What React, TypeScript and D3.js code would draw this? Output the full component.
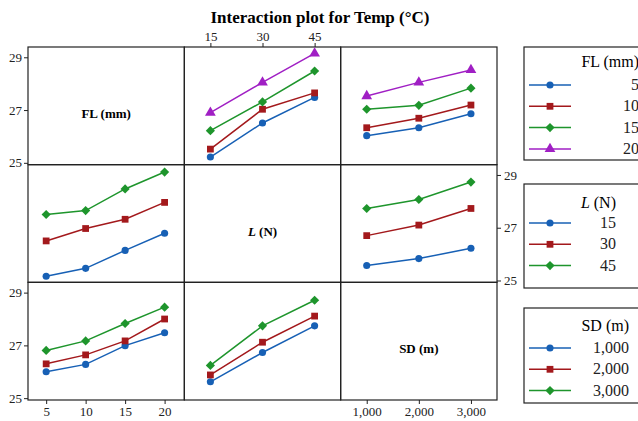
import React, { useEffect, useRef } from 'react';
import * as d3 from 'd3';

// factor levels
const flLevels = [5, 10, 15, 20];
const lLevels = [15, 30, 45];
const sdLevels = [1000, 2000, 3000];
const yTicks = [25, 27, 29];

// mean Temp (°C), one row per trace level
const flTracesVsL = [
  [25.22, 26.51, 27.48],
  [25.52, 27.03, 27.65],
  [26.22, 27.31, 28.48],
  [26.9, 28.05, 29.15],
];
const flTracesVsSD = [
  [26.03, 26.33, 26.86],
  [26.33, 26.69, 27.19],
  [27.03, 27.18, 27.83],
  [27.53, 28.05, 28.52],
];
const lTracesVsFL = [
  [25.16, 25.46, 26.14, 26.79],
  [26.5, 26.97, 27.32, 27.96],
  [27.5, 27.65, 28.47, 29.11],
];
const lTracesVsSD = [
  [25.57, 25.83, 26.22],
  [26.7, 27.1, 27.73],
  [27.73, 28.07, 28.73],
];
const sdTracesVsFL = [
  [26.0, 26.28, 26.99, 27.48],
  [26.3, 26.64, 27.17, 28.0],
  [26.81, 27.17, 27.83, 28.45],
];
const sdTracesVsL = [
  [25.62, 26.73, 27.74],
  [25.88, 27.12, 28.11],
  [26.24, 27.74, 28.71],
];

const colors = ['#1760b5', '#a3191c', '#1e952c', '#a01fc4'];
const shapes = ['circle', 'square', 'diamond', 'triangle'];
const serif = 'Liberation Serif, Times New Roman, serif';

const W = 638, H = 421;

const App = () => {
  const ref = useRef<SVGSVGElement>(null);

  useEffect(() => {
    const svg = d3.select(ref.current);
    svg.selectAll('*').remove();

    const left = 28, top = 47, right = 497, bottom = 400;
    const cw = (right - left) / 3, ch = (bottom - top) / 3;

    const xLevels = [flLevels, lLevels, sdLevels];
    const xDomains = [[2.7, 22.5], [7.5, 52.5], [500, 3500]];
    const xs = xDomains.map((d, i) =>
      d3.scaleLinear().domain(d).range([left + i * cw, left + (i + 1) * cw]));
    const ys = [0, 1, 2].map(r =>
      d3.scaleLinear().domain([24.93, 29.39]).range([top + (r + 1) * ch, top + r * ch]));

    // title
    svg.append('text')
      .attr('x', 320).attr('y', 23)
      .attr('text-anchor', 'middle')
      .attr('font-family', serif).attr('font-weight', 'bold').attr('font-size', 17)
      .text('Interaction plot for Temp (°C)');

    // grid cells
    const g = svg.append('g');
    for (let r = 0; r < 3; r++) {
      for (let c = 0; c < 3; c++) {
        g.append('rect')
          .attr('x', left + c * cw).attr('y', top + r * ch)
          .attr('width', cw).attr('height', ch)
          .attr('fill', 'none').attr('stroke', '#222').attr('stroke-width', 1.2);
      }
    }

    // diagonal labels
    const diag = g.append('g')
      .attr('font-family', serif).attr('font-weight', 'bold').attr('font-size', 13)
      .attr('text-anchor', 'middle');
    diag.append('text').attr('x', left + cw / 2).attr('y', top + ch / 2 + 12).text('FL (mm)');
    const lt = diag.append('text').attr('x', left + 1.5 * cw).attr('y', top + 1.5 * ch + 12);
    lt.append('tspan').attr('font-style', 'italic').text('L');
    lt.append('tspan').text(' (N)');
    diag.append('text').attr('x', left + 2.5 * cw).attr('y', top + 2.5 * ch + 12).text('SD (m)');

    // axes
    const styleAxis = (sel: any) => {
      sel.attr('font-family', serif).attr('font-size', 13);
      sel.select('.domain').remove();
      sel.selectAll('line').attr('stroke', '#222');
      sel.selectAll('text').attr('fill', '#222');
    };
    const yFmt = d3.format('d');
    svg.append('g').attr('transform', `translate(${left},0)`)
      .call(d3.axisLeft(ys[0]).tickValues(yTicks).tickFormat(yFmt).tickSize(4).tickPadding(2))
      .call(styleAxis);
    svg.append('g').attr('transform', `translate(${right},0)`)
      .call(d3.axisRight(ys[1]).tickValues(yTicks).tickFormat(yFmt).tickSize(4).tickPadding(3))
      .call(styleAxis);
    svg.append('g').attr('transform', `translate(${left},0)`)
      .call(d3.axisLeft(ys[2]).tickValues(yTicks).tickFormat(yFmt).tickSize(4).tickPadding(2))
      .call(styleAxis);
    svg.append('g').attr('transform', `translate(0,${top})`)
      .call(d3.axisTop(xs[1]).tickValues(lLevels).tickFormat(yFmt).tickSize(4).tickPadding(2))
      .call(styleAxis);
    svg.append('g').attr('transform', `translate(0,${bottom})`)
      .call(d3.axisBottom(xs[0]).tickValues(flLevels).tickFormat(yFmt).tickSize(4).tickPadding(3))
      .call(styleAxis);
    svg.append('g').attr('transform', `translate(0,${bottom})`)
      .call(d3.axisBottom(xs[2]).tickValues(sdLevels).tickSize(4).tickPadding(3)
        .tickFormat(d3.format(',')))
      .call(styleAxis);

    const markerPath = (shape: string) => {
      if (shape === 'circle') return d3.symbol().type(d3.symbolCircle).size(40)();
      if (shape === 'square') return d3.symbol().type(d3.symbolSquare).size(46)();
      if (shape === 'diamond') return d3.symbol().type(d3.symbolSquare).size(42)();
      return d3.symbol().type(d3.symbolTriangle).size(50)();
    };
    const drawMarker = (sel: any, shape: string, x: number, y: number, color: string) => {
      sel.append('path')
        .attr('d', markerPath(shape))
        .attr('transform', `translate(${x},${y})${shape === 'diamond' ? ' rotate(45)' : ''}`)
        .attr('fill', color);
    };

    // panels: row = trace factor, col = x factor
    const panels = [
      { row: 0, col: 1, traces: flTracesVsL },
      { row: 0, col: 2, traces: flTracesVsSD },
      { row: 1, col: 0, traces: lTracesVsFL },
      { row: 1, col: 2, traces: lTracesVsSD },
      { row: 2, col: 0, traces: sdTracesVsFL },
      { row: 2, col: 1, traces: sdTracesVsL },
    ];
    panels.forEach(p => {
      const x = xs[p.col], y = ys[p.row], lv = xLevels[p.col];
      const pg = svg.append('g');
      p.traces.forEach((vals, i) => {
        const pts = vals.map((v, j) => [x(lv[j]), y(v)] as [number, number]);
        pg.append('path')
          .attr('d', d3.line()(pts))
          .attr('fill', 'none').attr('stroke', colors[i]).attr('stroke-width', 1.5);
        pts.forEach(([px, py]) => drawMarker(pg, shapes[i], px, py, colors[i]));
      });
    });

    // legends
    const legends = [
      { title: 'FL (mm)', labels: flLevels.map(String), top: 47, h: 113, titleY: 67, itemY: 90, end: 639 },
      { title: 'L (N)', labels: lLevels.map(String), top: 184, h: 104, titleY: 208, itemY: 228, end: 616 },
      { title: 'SD (m)', labels: sdLevels.map(d3.format(',')), top: 308, h: 95, titleY: 331, itemY: 353, end: 629 },
    ];
    legends.forEach(lg => {
      const lgG = svg.append('g').attr('font-family', serif).attr('font-size', 16);
      lgG.append('rect').attr('x', 524).attr('y', lg.top).attr('width', 140).attr('height', lg.h)
        .attr('fill', 'white').attr('stroke', '#222').attr('stroke-width', 1.2);
      const tt = lgG.append('text').attr('x', lg.end).attr('y', lg.titleY).attr('text-anchor', 'end');
      if (lg.title === 'L (N)') {
        tt.append('tspan').attr('font-style', 'italic').text('L');
        tt.append('tspan').text(' (N)');
      } else {
        tt.text(lg.title);
      }
      lg.labels.forEach((lab, i) => {
        const cy = lg.itemY - 5 + i * 21.3;
        lgG.append('line').attr('x1', 529).attr('x2', 571).attr('y1', cy).attr('y2', cy)
          .attr('stroke', colors[i]).attr('stroke-width', 1.5);
        drawMarker(lgG, shapes[i], 550, cy, colors[i]);
        lgG.append('text').attr('x', lg.end).attr('y', lg.itemY + i * 21.3)
          .attr('text-anchor', 'end').attr('fill', '#222').text(lab);
      });
    });
  }, []);

  return (
    <svg ref={ref} width={W} height={H}
      style={{ position: 'absolute', left: 0, top: 0, background: 'white' }} />
  );
};

export default App;
